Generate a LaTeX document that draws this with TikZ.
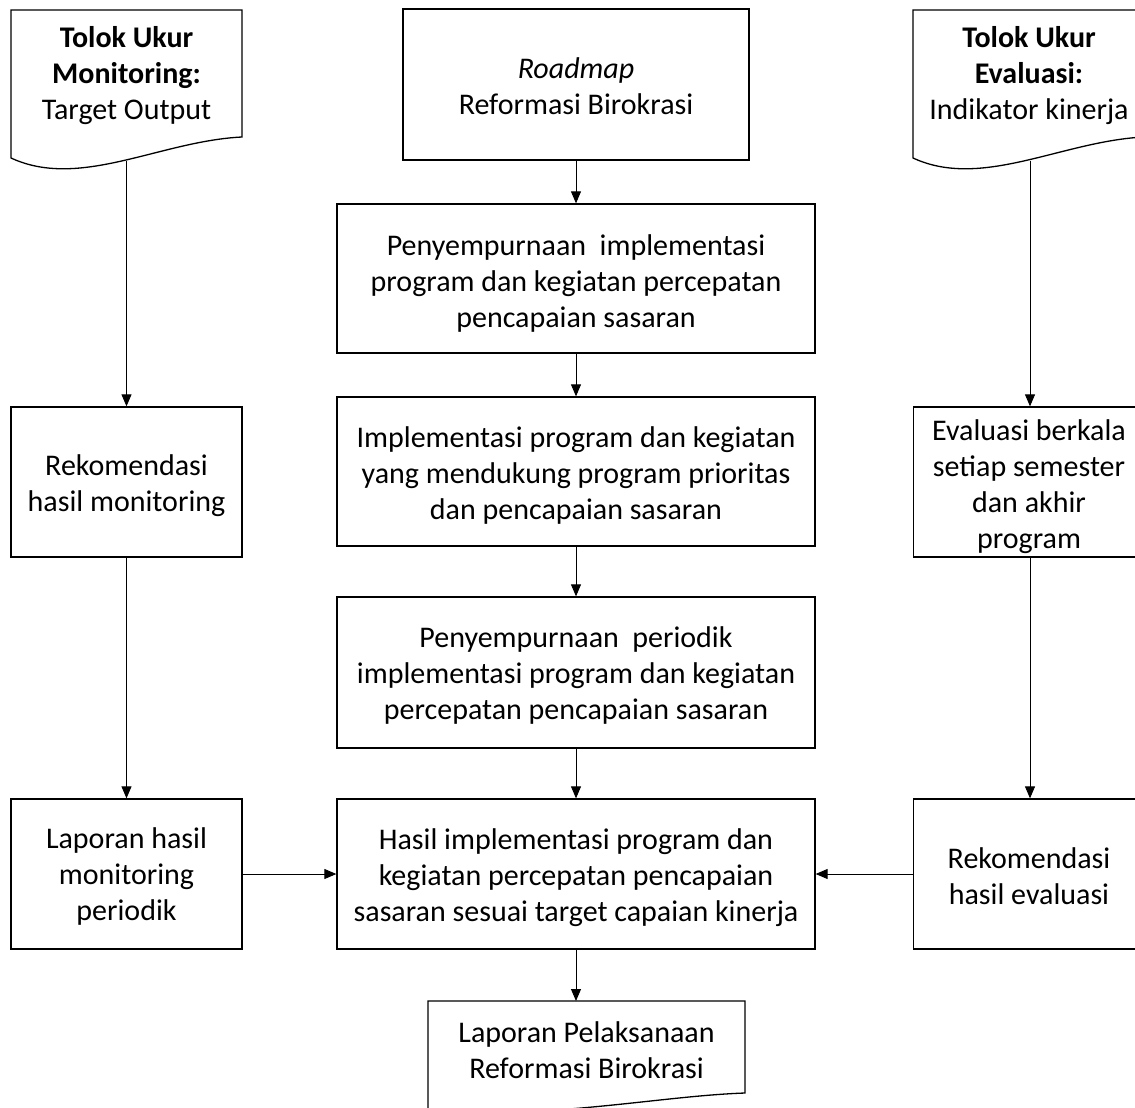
\documentclass[tikz,border=0pt]{standalone}
\usepackage{fontspec}
\setmainfont{Carlito}
\usetikzlibrary{arrows.meta}
\begin{document}
\begin{tikzpicture}[x=1pt,y=-1pt,
  box/.style={draw, line width=1.3pt, inner sep=0pt},
  txt/.style={align=center, inner sep=0pt, font=\fontsize{30}{36}\selectfont},
  docline/.style={draw, line width=1.3pt, line join=miter},
  conn/.style={line width=0.9pt, -{Triangle[length=12pt,width=10pt]}}]
\useasboundingbox (0,0) rectangle (1135,1108);
\clip (0,0) rectangle (1135,1108);
% documents
\draw[docline] (11,10) -- (242,10) -- (242,137) .. controls (160,141) and (80,190) .. (11,158) -- cycle;
\draw[docline] (913,10) -- (1144,10) -- (1144,137) .. controls (1062,141) and (982,190) .. (913,158) -- cycle;
\draw[docline] (428,1001) -- (745,1001) -- (745,1093) .. controls (660,1096) and (560,1118) .. (428,1112) -- cycle;
\node[txt] (ldoc) at (126.5,76) {\textbf{Tolok Ukur}\\\textbf{Monitoring:}\\Target Output};
\node[txt] (rdoc) at (1029,76) {\textbf{Tolok Ukur}\\\textbf{Evaluasi:}\\Indikator kinerja};
\node[txt] (bdoc) at (586.5,1050) {Laporan Pelaksanaan\\Reformasi Birokrasi};
\coordinate (ldocb) at (126.5,161);
\coordinate (rdocb) at (1030,160.5);
\coordinate (bdoct) at (576,1001);
% boxes
\node[box, minimum width=346pt, minimum height=151pt] (road) at (576,84.5) {};
\node[box, minimum width=478pt, minimum height=149pt] (c2) at (576,278.5) {};
\node[box, minimum width=478pt, minimum height=149pt] (c3) at (576,471.5) {};
\node[box, minimum width=478pt, minimum height=151pt] (c4) at (576,672.5) {};
\node[box, minimum width=478pt, minimum height=150pt] (c5) at (576,874) {};
\node[box, minimum width=231pt, minimum height=150pt] (l1) at (126.5,482) {};
\node[box, minimum width=231pt, minimum height=150pt] (l2) at (126.5,874) {};
\node[box, minimum width=231pt, minimum height=150pt] (r1) at (1029,482) {};
\node[box, minimum width=231pt, minimum height=150pt] (r2) at (1029,874) {};
% texts
\node[txt] (roadt) at ([yshift=-2pt]road.center) {\textit{Roadmap}\\Reformasi Birokrasi};
\node[txt] (c2t) at ([yshift=-5pt]c2.center) {Penyempurnaan\ \ implementasi\\program dan kegiatan percepatan\\pencapaian sasaran};
\node[txt] (c3t) at ([yshift=-4pt]c3.center) {Implementasi program dan kegiatan\\yang mendukung program prioritas\\dan pencapaian sasaran};
\node[txt] (c4t) at ([yshift=-3pt]c4.center) {Penyempurnaan\ \ periodik\\implementasi program dan kegiatan\\percepatan pencapaian sasaran};
\node[txt] (c5t) at ([yshift=-3.5pt]c5.center) {Hasil implementasi program dan\\kegiatan percepatan pencapaian\\sasaran sesuai target capaian kinerja};
\node[txt] (l1t) at ([yshift=-4pt]l1.center) {Rekomendasi\\hasil monitoring};
\node[txt] (l2t) at ([yshift=-2pt]l2.center) {Laporan hasil\\monitoring\\periodik};
\node[txt] (r1t) at ([yshift=-5pt]r1.center) {Evaluasi berkala\\setiap semester\\dan akhir\\program};
\node[txt] (r2t) at ([yshift=-2pt]r2.center) {Rekomendasi\\hasil evaluasi};
% connectors
\draw[conn] (ldocb) -- (l1.north);
\draw[conn] (l1.south) -- (l2.north);
\draw[conn] (rdocb) -- (rdocb |- r1.north);
\draw[conn] (rdocb |- r1.south) -- (rdocb |- r2.north);
\draw[conn] (road.south) -- (c2.north);
\draw[conn] (c2.south) -- (c3.north);
\draw[conn] (c3.south) -- (c4.north);
\draw[conn] (c4.south) -- (c5.north);
\draw[conn] (c5.south) -- (bdoct);
\draw[conn] (l2.east) -- (c5.west);
\draw[conn] (r2.west) -- (c5.east);
\end{tikzpicture}
\end{document}
